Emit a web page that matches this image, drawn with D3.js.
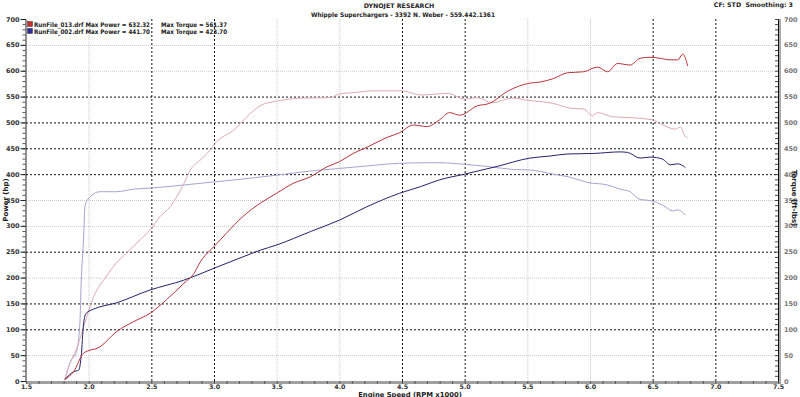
<!DOCTYPE html>
<html>
<head>
<meta charset="utf-8">
<script src="https://cdn.jsdelivr.net/npm/d3@7"></script>
<style>
  body { margin: 0; background: #fff; }
  svg { display: block; }
</style>
</head>
<body>
<div id="dyno"></div>
<script>
  // rpm (x1000) and value pairs
  const redPower = [[1.81,3],[1.88,18],[1.96,54],[2.09,66],[2.22,95],[2.36,115],[2.49,131],[2.62,157],[2.76,189],[2.84,208],[2.89,230],[2.97,253],[3.0,260],[3.1,286],[3.23,318],[3.37,344],[3.5,363],[3.63,382],[3.77,395],[3.9,414],[4.0,424],[4.11,440],[4.22,452],[4.38,471],[4.48,480],[4.59,495],[4.7,492],[4.8,505],[4.88,519],[4.96,514],[5.1,532],[5.2,537],[5.34,560],[5.52,576],[5.6,578],[5.71,585],[5.82,596],[5.95,598],[6.06,607],[6.14,598],[6.22,614],[6.32,611],[6.4,624],[6.48,626],[6.56,624],[6.64,621],[6.7,621],[6.74,632],[6.78,609]];
  const redTorque = [[1.81,3],[1.85,34],[1.9,60],[1.96,105],[2.04,163],[2.14,202],[2.22,228],[2.3,247],[2.41,273],[2.49,292],[2.57,318],[2.65,337],[2.76,382],[2.81,408],[2.89,427],[2.97,447],[3.0,457],[3.17,488],[3.25,508],[3.38,534],[3.5,541],[3.69,547],[3.93,548],[4.0,555],[4.13,558],[4.26,561],[4.5,561],[4.65,553],[4.87,556],[5.0,545],[5.1,548],[5.22,538],[5.38,547],[5.5,543],[5.7,537],[5.86,527],[5.95,526],[6.02,513],[6.06,519],[6.18,511],[6.26,510],[6.5,505],[6.56,498],[6.68,487],[6.72,491],[6.76,473],[6.78,470]];
  const bluePower = [[1.81,3],[1.88,18],[1.92,21],[1.94,47],[1.96,112],[1.98,131],[2.04,139],[2.22,151],[2.49,176],[2.76,195],[3.0,218],[3.23,240],[3.37,253],[3.5,263],[3.77,289],[4.0,311],[4.22,337],[4.48,363],[4.65,376],[4.8,389],[5.0,400],[5.26,415],[5.52,431],[5.68,435],[5.82,439],[6.03,440],[6.24,443],[6.3,442],[6.4,431],[6.48,433],[6.58,429],[6.64,418],[6.7,420],[6.76,413]];
  const blueTorque = [[1.81,3],[1.86,40],[1.9,54],[1.93,112],[1.94,189],[1.96,279],[1.97,337],[1.99,350],[2.09,366],[2.22,366],[2.36,371],[2.49,373],[2.76,379],[3.0,385],[3.21,390],[3.5,398],[3.77,406],[4.0,411],[4.27,417],[4.48,421],[4.7,422],[4.8,422],[5.0,419],[5.18,415],[5.39,409],[5.52,408],[5.71,400],[5.84,394],[5.98,384],[6.14,379],[6.24,371],[6.32,366],[6.4,351],[6.48,349],[6.58,340],[6.66,329],[6.7,331],[6.76,321]];

  const yTicks = d3.range(0, 701, 50);
  const xTicks = d3.range(1.5, 7.51, 0.5);
  const darkY = [550, 500, 450, 400, 250, 150, 100];
  const lightY = [650, 600, 350, 300, 200, 50];
  const darkX = [2.5, 3.0, 4.5, 5.0, 6.5, 7.0];
  const lightX = [2.0, 3.5, 4.0, 5.5, 6.0];

  const legendRows = [
    { file: "RunFile_013.drf", power: "Max Power = 632.32", torque: "Max Torque = 561.37", color: "#c8302c" },
    { file: "RunFile_002.drf", power: "Max Power = 441.70", torque: "Max Torque = 423.70", color: "#2a2a9a" }
  ];

  const width = 800, height = 397;
  const font = "'DejaVu Sans', Verdana, sans-serif";

  const svg = d3.select("#dyno").append("svg")
    .attr("width", width)
    .attr("height", height)
    .style("font-family", font);

  const x = d3.scaleLinear([1.5, 7.5], [26, 778]);
  const y = d3.scaleLinear([0, 700], [381, 19]);

  // grid
  const grid = svg.append("g");
  grid.selectAll("line.ly").data(lightY).join("line")
    .attr("x1", x(1.5)).attr("x2", x(7.5))
    .attr("y1", d => y(d) + 0.5).attr("y2", d => y(d) + 0.5)
    .attr("stroke", "#c8c8c8").attr("stroke-dasharray", "1,1");
  grid.selectAll("line.lx").data(lightX).join("line")
    .attr("class", "lx")
    .attr("x1", d => x(d) + 0.5).attr("x2", d => x(d) + 0.5)
    .attr("y1", y(700)).attr("y2", y(0))
    .attr("stroke", "#c8c8c8").attr("stroke-dasharray", "1,1");
  grid.selectAll("line.dy").data(darkY).join("line")
    .attr("class", "dy")
    .attr("x1", x(1.5)).attr("x2", x(7.5))
    .attr("y1", d => y(d) + 0.5).attr("y2", d => y(d) + 0.5)
    .attr("stroke", "#111").attr("stroke-dasharray", "2,2");
  grid.selectAll("line.dx").data(darkX).join("line")
    .attr("class", "dx")
    .attr("x1", d => x(d) + 0.5).attr("x2", d => x(d) + 0.5)
    .attr("y1", y(700)).attr("y2", y(0))
    .attr("stroke", "#111").attr("stroke-dasharray", "2,2");

  // left axis
  svg.append("g")
    .attr("transform", `translate(${x(1.5) - 0.5},0)`)
    .call(d3.axisLeft(y).tickValues(d3.range(0, 701, 10)).tickSize(3).tickFormat(""))
    .call(g => g.select(".domain").attr("stroke", "#222"))
    .call(g => g.selectAll(".tick line").attr("stroke", "#555"));
  svg.append("g")
    .attr("transform", `translate(${x(1.5) - 0.5},0)`)
    .call(d3.axisLeft(y).tickValues(yTicks).tickSize(5).tickPadding(1))
    .call(g => g.select(".domain").remove())
    .call(g => g.selectAll(".tick line").attr("stroke", "#222"))
    .call(g => g.selectAll("text")
      .attr("font-size", 6.5).attr("font-weight", "bold")
      .attr("font-family", font).attr("fill", "#333"));

  // right axis
  svg.append("rect")
    .attr("x", x(7.5)).attr("y", y(700))
    .attr("width", 3).attr("height", y(0) - y(700) + 3)
    .attr("fill", "#aaa");
  svg.append("g")
    .attr("transform", `translate(${x(7.5)},0)`)
    .call(d3.axisLeft(y).tickValues(d3.range(0, 701, 10)).tickSize(3).tickFormat(""))
    .call(g => g.select(".domain").attr("stroke", "#111"))
    .call(g => g.selectAll(".tick line").attr("stroke", "#444"));
  svg.append("g")
    .attr("transform", `translate(${x(7.5) + 3},0)`)
    .call(d3.axisRight(y).tickValues(yTicks).tickSize(0).tickPadding(3))
    .call(g => g.select(".domain").remove())
    .call(g => g.selectAll("text")
      .attr("font-size", 6.5).attr("font-weight", "bold")
      .attr("font-family", font).attr("fill", "#777"));

  // bottom axis: gray band with 0.1 ticks on it, labels below
  svg.append("rect")
    .attr("x", x(1.5)).attr("y", y(0))
    .attr("width", x(7.5) - x(1.5) + 3).attr("height", 3)
    .attr("fill", "#a0a0a0");
  svg.append("g")
    .attr("transform", `translate(0,${y(0) + 0.5})`)
    .call(d3.axisBottom(x).tickValues(d3.range(1.5, 7.51, 0.1)).tickSize(2).tickFormat(""))
    .call(g => g.select(".domain").remove())
    .call(g => g.selectAll(".tick line").attr("stroke", "#333"));
  svg.append("g")
    .attr("transform", `translate(0,${y(0) + 3})`)
    .call(d3.axisBottom(x).tickValues(xTicks).tickSize(0).tickPadding(1).tickFormat(d3.format(".1f")))
    .call(g => g.select(".domain").remove())
    .call(g => g.selectAll("text")
      .attr("font-size", 6.3).attr("font-weight", "bold")
      .attr("font-family", font).attr("fill", "#333"));

  // curves
  const line = d3.line()
    .x(d => x(d[0]))
    .y(d => y(d[1]))
    .curve(d3.curveMonotoneX);

  const series = [
    { data: blueTorque, color: "#a4a4d4" },
    { data: redTorque, color: "#dcaab2" },
    { data: bluePower, color: "#23236a" },
    { data: redPower, color: "#b8343a" }
  ];
  svg.append("g").selectAll("path").data(series).join("path")
    .attr("d", d => line(d.data))
    .attr("fill", "none")
    .attr("stroke", d => d.color)
    .attr("stroke-width", 1);

  // legend
  const legend = svg.append("g")
    .attr("font-size", 6.3).attr("font-weight", "bold").attr("fill", "#222");
  legendRows.forEach((r, i) => {
    const yy = 27 + i * 7;
    legend.append("rect")
      .attr("x", 27.5).attr("y", yy - 5.5).attr("width", 5).attr("height", 5)
      .attr("fill", r.color).attr("stroke", "#333").attr("stroke-width", 0.5);
    legend.append("text").attr("x", 34).attr("y", yy)
      .attr("textLength", 116).attr("lengthAdjust", "spacingAndGlyphs")
      .text(`${r.file} ${r.power}`);
    legend.append("text").attr("x", 161).attr("y", yy)
      .attr("textLength", 66).attr("lengthAdjust", "spacingAndGlyphs")
      .text(r.torque);
  });

  // titles
  const titles = svg.append("g")
    .attr("font-weight", "bold").attr("fill", "#222");
  titles.append("text")
    .attr("x", 399).attr("y", 8).attr("text-anchor", "middle")
    .attr("font-size", 6.3).text("DYNOJET RESEARCH");
  titles.append("text")
    .attr("x", 403).attr("y", 17).attr("text-anchor", "middle")
    .attr("font-size", 6.3)
    .attr("textLength", 184).attr("lengthAdjust", "spacingAndGlyphs")
    .text("Whipple Superchargers - 3392 N. Weber - 559.442.1361");
  titles.append("text")
    .attr("x", 793).attr("y", 7).attr("text-anchor", "end")
    .attr("font-size", 6.3).text("CF: STD\u00a0\u00a0Smoothing: 3");
  titles.append("text")
    .attr("x", 410).attr("y", 396.5).attr("text-anchor", "middle")
    .attr("font-size", 6.8).text("Engine Speed (RPM x1000)");
  titles.append("text")
    .attr("transform", "translate(8,200) rotate(-90)")
    .attr("text-anchor", "middle")
    .attr("font-size", 7).text("Power (hp)");
  titles.append("text")
    .attr("transform", "translate(792,198) rotate(90)")
    .attr("text-anchor", "middle")
    .attr("font-size", 7).text("Torque (ft-lbs)");
</script>
</body>
</html>
